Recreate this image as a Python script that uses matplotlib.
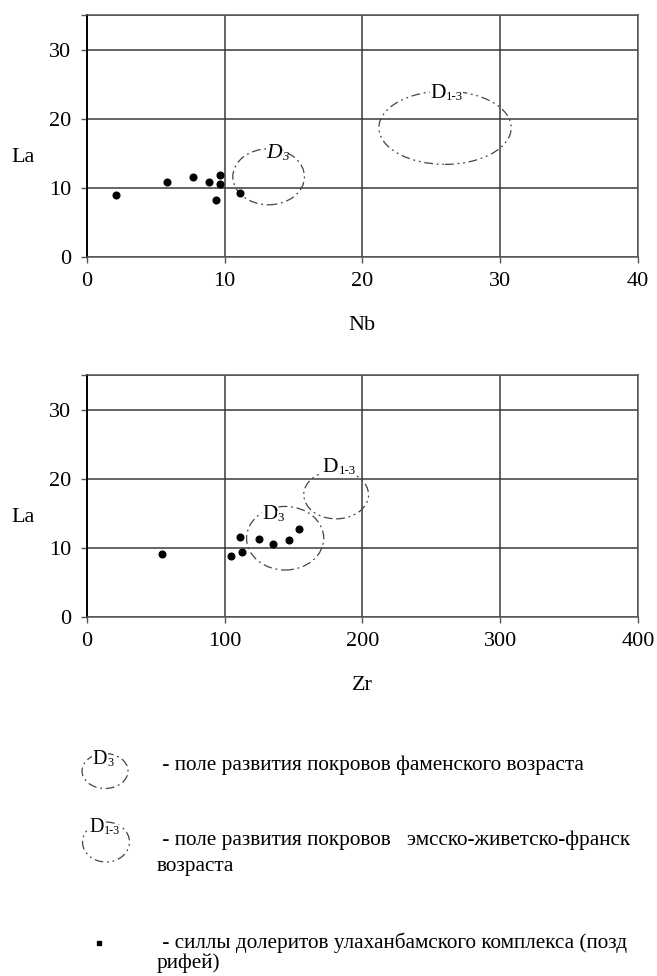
import matplotlib
matplotlib.use('Agg')
import matplotlib.pyplot as plt
from matplotlib.patches import Ellipse

plt.rcParams['font.family'] = ['Liberation Serif', 'DejaVu Serif']

# данные: Nb - La
nb = [2.1, 5.8, 7.7, 8.9, 9.4, 9.7, 9.7, 11.1]
la_nb = [8.9, 10.9, 11.6, 10.9, 8.3, 11.8, 10.6, 9.3]

# данные: Zr - La
zr = [54.5, 104.8, 111.5, 112.7, 124.8, 135.2, 147.0, 154.0]
la_zr = [9.1, 8.8, 11.6, 9.35, 11.3, 10.5, 11.2, 12.7]

# поля (центр x, центр y, ширина, высота)
nb_d3 = (13.2, 11.6, 5.2, 8.1)
nb_d13 = (26.0, 18.7, 9.6, 10.6)
zr_d3 = (144.0, 11.4, 56.0, 9.2)
zr_d13 = (181.0, 17.7, 47.0, 7.0)

ls_d3 = (0, (7, 3, 1.5, 3))
ls_d13 = (0, (7, 3, 1.5, 3, 1.5, 3))
fs = 15.5
fs_leg = 15.3

fig = plt.figure(figsize=(6.57, 9.76), dpi=100)


def label_d(ax, x, y, sub, italic=False, transform=None, size=fs):
    tr = transform if transform is not None else ax.transData
    style = 'italic' if italic else 'normal'
    t = ax.text(x, y, 'D', fontsize=size, style=style, ha='center', va='center',
                transform=tr, bbox=dict(fc='white', ec='none', pad=0.3), zorder=4)
    ax.annotate(sub, xy=(1, 0), xycoords=t, xytext=(0, 0), textcoords='offset points',
                fontsize=size * 0.6, style=style, ha='left', va='bottom',
                bbox=dict(fc='white', ec='none', pad=0.2), zorder=4)


def setup(ax, xmax, xlabel):
    ax.set_xlim(0, xmax)
    ax.set_ylim(0, 35)
    ax.set_xticks([xmax * i / 4 for i in range(5)])
    ax.set_xticklabels([str(int(xmax * i / 4)) for i in range(5)])
    ax.set_yticks([0, 10, 20, 30, 35])
    ax.set_yticklabels(['0', '10', '20', '30', ''])
    ax.grid(True, color='#3a3a3a', linewidth=1.1)
    ax.set_axisbelow(True)
    for s in ['top', 'right', 'bottom']:
        ax.spines[s].set_color('#555555')
        ax.spines[s].set_linewidth(1.1)
    ax.spines['left'].set_color('black')
    ax.spines['left'].set_linewidth(1.4)
    ax.tick_params(direction='out', length=4, width=1, color='#555555',
                   labelsize=16, pad=7)
    ax.set_xlabel(xlabel, fontsize=16)
    ax.xaxis.set_label_coords(0.5, -0.244)
    ax.set_ylabel('La', fontsize=16, rotation=0, ha='center', va='center')
    ax.yaxis.set_label_coords(-0.115, 0.41)


def field(ax, e, ls):
    ax.add_patch(Ellipse((e[0], e[1]), e[2], e[3], fill=False, edgecolor='#444444',
                         linewidth=0.9, linestyle=ls, zorder=3))


ax1 = fig.add_axes([0.132, 0.7367, 0.839, 0.2479])
setup(ax1, 40, 'Nb')
field(ax1, nb_d3, ls_d3)
field(ax1, nb_d13, ls_d13)
ax1.plot(nb, la_nb, 'o', color='black', markersize=4.8, zorder=5)
label_d(ax1, 13.6, 15.0, '3', italic=True)
label_d(ax1, 25.5, 23.7, '1-3')

ax2 = fig.add_axes([0.132, 0.3678, 0.839, 0.2479])
setup(ax2, 400, 'Zr')
field(ax2, zr_d3, ls_d3)
field(ax2, zr_d13, ls_d13)
ax2.plot(zr, la_zr, 'o', color='black', markersize=4.8, zorder=5)
label_d(ax2, 133, 14.9, '3')
label_d(ax2, 177, 21.7, '1-3')

# условные обозначения (текст обрезан по краю, как в оригинале)
W, H = 657.0, 976.0
lg = fig.add_axes([0, 0, 1, 1], frameon=False)
lg.set_xlim(0, W)
lg.set_ylim(H, 0)
lg.set_axis_off()

lg.add_patch(Ellipse((105, 771), 46, 35, fill=False, edgecolor='#444444',
                     linewidth=0.9, linestyle=ls_d3))
label_d(lg, 100, 759, '3', size=14.5)
lg.text(157, 765, ' - поле развития покровов фаменского возраста', fontsize=fs_leg,
        ha='left', va='center')

lg.add_patch(Ellipse((106, 842), 47, 40, fill=False, edgecolor='#444444',
                     linewidth=0.9, linestyle=ls_d13))
label_d(lg, 97, 828, '1-3', size=14.5)
lg.text(157, 840, ' - поле развития покровов   эмсско-живетско-франск', fontsize=fs_leg,
        ha='left', va='center')
lg.text(157, 867, 'возраста', fontsize=fs_leg, ha='left', va='center')

lg.plot([99], [943], 's', color='black', markersize=3.5)
lg.text(157, 943, ' - силлы долеритов улаханбамского комплекса (позд', fontsize=fs_leg,
        ha='left', va='center')
lg.text(157, 963, 'рифей)', fontsize=fs_leg, ha='left', va='center')

fig.savefig('out.png', dpi=100)
